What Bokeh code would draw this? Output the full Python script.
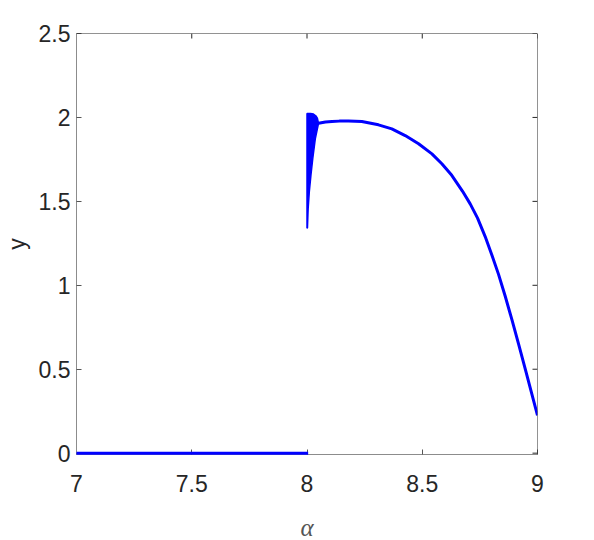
from bokeh.plotting import figure
from bokeh.models import FixedTicker, Range1d, Span
from bokeh.embed import file_html
from bokeh.resources import INLINE

# Trivial branch (y = 0)
alpha_zero = [7.0, 8.005]
y_zero = [0.0, 0.0]

# Oscillatory wedge near alpha = 8 (outline of the dense band)
wedge_alpha = [8.000, 8.000, 8.015, 8.028, 8.038, 8.045, 8.050, 8.036, 8.025, 8.017, 8.010, 8.005, 8.002]
wedge_y = [1.342, 2.024, 2.024, 2.020, 2.010, 1.995, 1.965, 1.872, 1.754, 1.655, 1.556, 1.457, 1.342]

# Upper branch
alpha_up = [8.050, 8.080, 8.108, 8.140, 8.180, 8.238, 8.310, 8.368, 8.426, 8.484, 8.542, 8.585,
            8.628, 8.675, 8.708, 8.740, 8.773, 8.802, 8.831, 8.860, 8.889, 8.918, 8.947, 8.975,
            9.000]
y_up = [1.965, 1.973, 1.976, 1.978, 1.979, 1.976, 1.956, 1.932, 1.892, 1.843, 1.783, 1.724,
        1.655, 1.560, 1.485, 1.400, 1.290, 1.180, 1.065, 0.935, 0.795, 0.650, 0.500, 0.355,
        0.225]

x_ticks = [7, 7.5, 8, 8.5, 9]
x_tick_labels = ["7", "7.5", "8", "8.5", "9"]
y_ticks = [0, 0.5, 1, 1.5, 2, 2.5]
y_tick_labels = ["0", "0.5", "1", "1.5", "2", "2.5"]

X0, X1 = 7, 9
Y0, Y1 = -0.008, 2.5

BLUE = "#0000FF"
TXT = "#262626"
FONT = "Liberation Sans"
FS = "23px"

p = figure(frame_width=461, frame_height=421, output_backend="svg", toolbar_location=None,
           x_range=Range1d(X0, X1), y_range=Range1d(Y0, Y1),
           min_border_left=70, min_border_right=47, min_border_top=33, min_border_bottom=75,
           x_axis_label="α", y_axis_label="y")
p.grid.visible = False
p.outline_line_color = None
p.background_fill_color = "white"
p.border_fill_color = "white"

# mirrored box lines and inward ticks on top/right
p.add_layout(Span(location=Y1, dimension="width", line_color=TXT, line_width=1))
p.add_layout(Span(location=X1, dimension="height", line_color=TXT, line_width=1))
tick_dx = (X1 - X0) * 5 / 461
tick_dy = (Y1 - Y0) * 5 / 421
p.segment(x0=x_ticks, y0=[Y1] * len(x_ticks), x1=x_ticks, y1=[Y1 - tick_dy] * len(x_ticks),
          line_color=TXT, line_width=1)
p.segment(x0=[X1] * len(y_ticks), y0=y_ticks, x1=[X1 - tick_dx] * len(y_ticks), y1=y_ticks,
          line_color=TXT, line_width=1)

p.line(alpha_zero, y_zero, line_color=BLUE, line_width=3, level="overlay")
p.patch(wedge_alpha, wedge_y, fill_color=BLUE, line_color=BLUE, line_width=1.5)
p.line(alpha_up, y_up, line_color=BLUE, line_width=3, line_join="round")

xa = p.xaxis[0]
ya = p.yaxis[0]
xa.ticker = FixedTicker(ticks=x_ticks)
ya.ticker = FixedTicker(ticks=y_ticks)
xa.major_label_overrides = {t: l for t, l in zip(x_ticks, x_tick_labels)}
ya.major_label_overrides = {t: l for t, l in zip(y_ticks, y_tick_labels)}
for ax in (xa, ya):
    ax.axis_line_color = "#8c8c8c"
    ax.major_tick_line_color = "#555555"
    ax.major_tick_in = 5
    ax.major_tick_out = 0
    ax.minor_tick_line_color = None
    ax.major_label_text_font = FONT
    ax.major_label_text_font_size = FS
    ax.major_label_text_color = TXT
xa.major_label_standoff = 20
ya.major_label_standoff = 6
xa.axis_label_text_font = "Liberation Serif"
xa.axis_label_text_font_style = "italic"
xa.axis_label_text_font_size = "25px"
xa.axis_label_text_color = "#555555"
xa.axis_label_standoff = 19
ya.axis_label_text_font = FONT
ya.axis_label_text_font_style = "normal"
ya.axis_label_text_font_size = "23px"
ya.axis_label_text_color = TXT
ya.axis_label_standoff = 6

open("out.html", "w").write(file_html(p, INLINE))
